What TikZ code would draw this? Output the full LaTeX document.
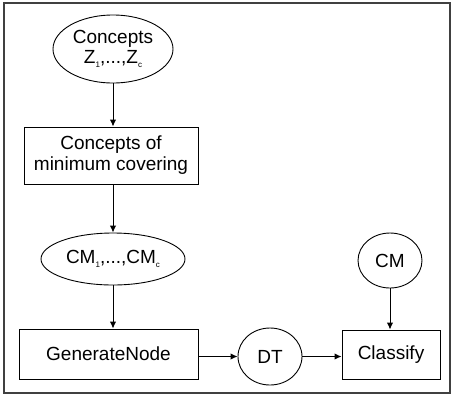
\documentclass[tikz,border=0pt]{standalone}
\usepackage{fontspec}
\setmainfont{Liberation Sans}
\usetikzlibrary{shapes.geometric,arrows.meta}
\newcommand{\lowsub}[1]{\raisebox{-0.35ex}{\fontsize{8}{8}\selectfont #1}}
\tikzset{
  every node/.style={font=\fontsize{19}{23}\selectfont, inner sep=0pt},
  oval/.style={draw, ellipse, line width=0.9pt},
  box/.style={draw, rectangle, line width=1pt, align=center},
  conn/.style={line width=1pt, -{Latex[length=7pt,width=6.5pt]}}
}
\begin{document}
\begin{tikzpicture}[x=1pt,y=-1pt]
\useasboundingbox (0,0) rectangle (454,405);
\draw[line width=1.3pt, draw=black!75] (4,3) rectangle (450,393);
\node[oval, minimum width=120pt, minimum height=68pt, align=center] (z) at (113,49)
  {Concepts\\[-3pt] Z\lowsub{1},...,Z\lowsub{c}};
\node[box, minimum width=174pt, minimum height=57pt] (cov) at (111,155.5)
  {Concepts of\\[-2pt] minimum covering};
\node[oval, minimum width=144pt, minimum height=52pt] (cm1) at (113,259)
  {CM\lowsub{1},...,CM\lowsub{c}};
\node[box, minimum width=179pt, minimum height=50pt] (gen) at (108.5,354) {GenerateNode};
\node[oval, minimum width=64pt, minimum height=57pt] (dt) at (270,356.5) {DT};
\node[box, minimum width=98pt, minimum height=49pt] (cls) at (391,354.5) {Classify};
\node[oval, minimum width=64pt, minimum height=55pt] (cm) at (390,260.5) {CM};
\draw[conn] (z.south) -- (z.south |- cov.north);
\draw[conn] (cov.south -| cm1.north) -- (cm1.north);
\draw[conn] (cm1.south) -- (cm1.south |- gen.north);
\draw[conn] (gen.east |- dt.west) -- (dt.west);
\draw[conn] (dt.east) -- (dt.east -| cls.west);
\draw[conn] (cm.south) -- (cm.south |- cls.north);
\end{tikzpicture}
\end{document}
